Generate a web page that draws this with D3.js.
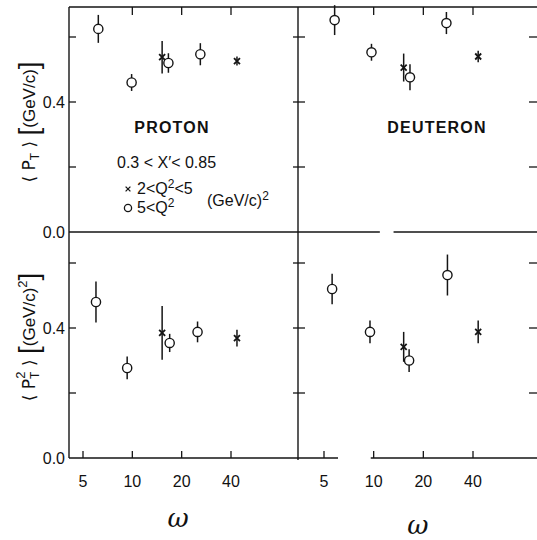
<!DOCTYPE html>
<html>
<head>
<meta charset="utf-8">
<script src="https://cdn.jsdelivr.net/npm/d3@7"></script>
<style>
  body { margin: 0; background: #fff; }
  svg text { font-family: "Liberation Sans", Arial, sans-serif; fill: #111; }
</style>
</head>
<body>
<svg id="chart" width="537" height="540"></svg>
<script>
// ---- axis ticks ----
const omegaTicks = [5, 10, 20, 40];
const omegaTopTicks = [10, 20, 40];
const valueTicks = [0.2, 0.4, 0.6];
const valueTickLabels = [0.0, 0.4];

// ---- proton <pT> ----
const pPtCircOmega = [6.2, 9.9, 16.6, 26];
const pPtCircVal   = [0.625, 0.460, 0.520, 0.547];
const pPtCircErr   = [0.043, 0.026, 0.030, 0.034];
const pPtCrossOmega = [15.2, 43.5];
const pPtCrossVal   = [0.538, 0.526];
const pPtCrossErr   = [0.050, 0.014];

// ---- deuteron <pT> ----
const dPtCircOmega = [5.8, 9.7, 16.6, 27.6];
const dPtCircVal   = [0.652, 0.553, 0.476, 0.643];
const dPtCircErr   = [0.046, 0.026, 0.040, 0.034];
const dPtCrossOmega = [15.2, 43];
const dPtCrossVal   = [0.506, 0.540];
const dPtCrossErr   = [0.043, 0.018];

// ---- proton <pT^2> ----
const pPt2CircOmega = [6.0, 9.3, 16.9, 25];
const pPt2CircVal   = [0.480, 0.277, 0.354, 0.388];
const pPt2CircErr   = [0.063, 0.035, 0.028, 0.032];
const pPt2CrossOmega = [15.2, 43.5];
const pPt2CrossVal   = [0.385, 0.369];
const pPt2CrossErr   = [0.083, 0.026];

// ---- deuteron <pT^2> ----
const dPt2CircOmega = [5.6, 9.5, 16.4, 28];
const dPt2CircVal   = [0.520, 0.388, 0.300, 0.563];
const dPt2CircErr   = [0.047, 0.035, 0.035, 0.063];
const dPt2CrossOmega = [15.2, 43];
const dPt2CrossVal   = [0.342, 0.388];
const dPt2CrossErr   = [0.046, 0.035];

// breaks in the printed frame lines of the deuteron column (in omega)
const midLineBreak = [10.9, 13.2];
const bottomLineBreak = [6.08, 9.6];

// ---- layout ----
const svg = d3.select("#chart");
const L = 69, D = 298, R = 537, T = 7, M = 232, B = 458;

const xLeft  = d3.scaleLog().domain([5, 40]).range([83, 231]);
const xRight = d3.scaleLog().domain([5, 40]).range([324, 473]);
const yTop    = d3.scaleLinear().domain([0, 0.6]).range([M, M - 195]);
const yBottom = d3.scaleLinear().domain([0, 0.6]).range([B, B - 195]);

const ink = "#151515";
const frame = svg.append("g").attr("stroke", ink).attr("stroke-width", 1.4).attr("fill", "none");
function seg(x1, y1, x2, y2, w) {
  frame.append("line").attr("x1", x1).attr("y1", y1).attr("x2", x2).attr("y2", y2)
    .attr("stroke-width", w || 1.4);
}

// outer frame and dividers
seg(L, T, L, B);
seg(L, T, R, T);
seg(D, T, D, B + 2);
seg(L, M, D, M);
seg(D, M, xRight(midLineBreak[0]), M);
seg(xRight(midLineBreak[1]), M, R, M);
seg(L, B, D, B);
seg(D, B, xRight(bottomLineBreak[0]), B);
seg(xRight(bottomLineBreak[1]), B, R, B);

// omega ticks
[xLeft, xRight].forEach(x => {
  omegaTicks.forEach(w => seg(x(w), B, x(w), B - 7, 1.3));
  omegaTopTicks.forEach(w => seg(x(w), T, x(w), T + 8, 1.3));
});

// value ticks (left axis, divider, right edge)
[yTop, yBottom].forEach(y => {
  valueTicks.forEach(v => {
    seg(L, y(v), L + 7, y(v), 1.3);
    seg(D - 5, y(v), D + 7, y(v), 1.3);
    seg(R - 8, y(v), R, y(v), 1.3);
  });
});

// value tick labels
[yTop, yBottom].forEach(y => {
  valueTickLabels.forEach(v => {
    svg.append("text").attr("x", 65).attr("y", y(v)).attr("dy", "0.36em")
      .attr("text-anchor", "end").attr("font-size", 16).text(v.toFixed(1));
  });
});

// omega tick labels
[xLeft, xRight].forEach(x => {
  omegaTicks.forEach(w => {
    svg.append("text").attr("x", x(w)).attr("y", 487).attr("text-anchor", "middle")
      .attr("font-size", 16).text(w);
  });
});

// omega axis titles
svg.append("text").attr("x", xLeft(19)).attr("y", 527).attr("text-anchor", "middle")
  .attr("font-size", 26).attr("font-style", "italic")
  .style("font-family", "'DejaVu Serif', serif").text("ω");
svg.append("text").attr("x", xRight(18.5)).attr("y", 534).attr("text-anchor", "middle")
  .attr("font-size", 26).attr("font-style", "italic")
  .style("font-family", "'DejaVu Serif', serif").text("ω");

// y titles
function yTitle(cy, squared) {
  const t = svg.append("text").attr("transform", `translate(35,${cy}) rotate(-90)`)
    .attr("text-anchor", "middle").attr("font-size", 17);
  t.append("tspan").style("font-family", "'DejaVu Sans', sans-serif").text("⟨ P");
  t.append("tspan").attr("font-size", 12).attr("dy", 4).text("T");
  if (squared) {
    t.append("tspan").attr("font-size", 13).attr("dx", -7).attr("dy", -14).text("2");
    t.append("tspan").style("font-family", "'DejaVu Sans', sans-serif").attr("dy", 10).text(" ⟩ ");
  } else {
    t.append("tspan").style("font-family", "'DejaVu Sans', sans-serif").attr("dy", -4).text(" ⟩ ");
  }
  t.append("tspan").attr("font-size", 28).attr("dy", 3).style("font-weight", "200").text("[");
  t.append("tspan").attr("font-size", 17).attr("dy", -3).text("(GeV/c)");
  if (squared) {
    t.append("tspan").attr("font-size", 13).attr("dy", -8).text("2");
    t.append("tspan").attr("font-size", 28).attr("dy", 11).style("font-weight", "200").text("]");
  } else {
    t.append("tspan").attr("font-size", 28).attr("dy", 3).style("font-weight", "200").text("]");
  }
}
yTitle(122, false);
yTitle(337, true);

// panel names
svg.append("text").attr("x", 172).attr("y", 133).attr("text-anchor", "middle")
  .attr("font-size", 16).attr("font-weight", "bold").attr("letter-spacing", 1.2).text("PROTON");
svg.append("text").attr("x", 437).attr("y", 133).attr("text-anchor", "middle")
  .attr("font-size", 16).attr("font-weight", "bold").attr("letter-spacing", 1.2).text("DEUTERON");

// kinematic range and legend
svg.append("text").attr("x", 117).attr("y", 168).attr("font-size", 16).text("0.3 < X′< 0.85");
function qText(x, y, parts) {
  const t = svg.append("text").attr("x", x).attr("y", y).attr("font-size", 16);
  parts.forEach(p => {
    if (p.sup) t.append("tspan").attr("font-size", 12).attr("dy", -6).text(p.s);
    else t.append("tspan").attr("dy", p.after ? 6 : 0).text(p.s);
  });
  return t;
}
qText(137, 194, [{s: "2<Q"}, {s: "2", sup: true}, {s: "<5", after: true}]);
qText(137, 213, [{s: "5<Q"}, {s: "2", sup: true}]);
qText(207, 206, [{s: "(GeV/c)"}, {s: "2", sup: true}]);

// ---- markers ----
const crossPath = "M-3,-3L3,3M-3,3L3,-3";
svg.append("path").attr("d", crossPath).attr("transform", "translate(128,189) scale(0.8)")
  .attr("stroke", ink).attr("stroke-width", 1.6).attr("fill", "none");
svg.append("circle").attr("cx", 128).attr("cy", 208).attr("r", 3.6)
  .attr("stroke", ink).attr("stroke-width", 1.3).attr("fill", "#fff");

function drawSeries(x, y, omega, val, err, kind) {
  const g = svg.append("g");
  const data = omega.map((w, i) => ({w, v: val[i], e: err[i]}));
  g.selectAll("line").data(data).join("line")
    .attr("x1", d => x(d.w)).attr("x2", d => x(d.w))
    .attr("y1", d => y(d.v - d.e)).attr("y2", d => y(d.v + d.e))
    .attr("stroke", ink).attr("stroke-width", 1.5);
  if (kind === "circle") {
    g.selectAll("circle").data(data).join("circle")
      .attr("cx", d => x(d.w)).attr("cy", d => y(d.v)).attr("r", 4.6)
      .attr("fill", "#fff").attr("stroke", ink).attr("stroke-width", 1.4);
  } else {
    g.selectAll("path").data(data).join("path")
      .attr("d", crossPath).attr("transform", d => `translate(${x(d.w)},${y(d.v)})`)
      .attr("stroke", ink).attr("stroke-width", 1.8).attr("fill", "none");
  }
}

drawSeries(xLeft, yTop, pPtCrossOmega, pPtCrossVal, pPtCrossErr, "cross");
drawSeries(xLeft, yTop, pPtCircOmega, pPtCircVal, pPtCircErr, "circle");
drawSeries(xRight, yTop, dPtCrossOmega, dPtCrossVal, dPtCrossErr, "cross");
drawSeries(xRight, yTop, dPtCircOmega, dPtCircVal, dPtCircErr, "circle");
drawSeries(xLeft, yBottom, pPt2CrossOmega, pPt2CrossVal, pPt2CrossErr, "cross");
drawSeries(xLeft, yBottom, pPt2CircOmega, pPt2CircVal, pPt2CircErr, "circle");
drawSeries(xRight, yBottom, dPt2CrossOmega, dPt2CrossVal, dPt2CrossErr, "cross");
drawSeries(xRight, yBottom, dPt2CircOmega, dPt2CircVal, dPt2CircErr, "circle");
</script>
</body>
</html>
